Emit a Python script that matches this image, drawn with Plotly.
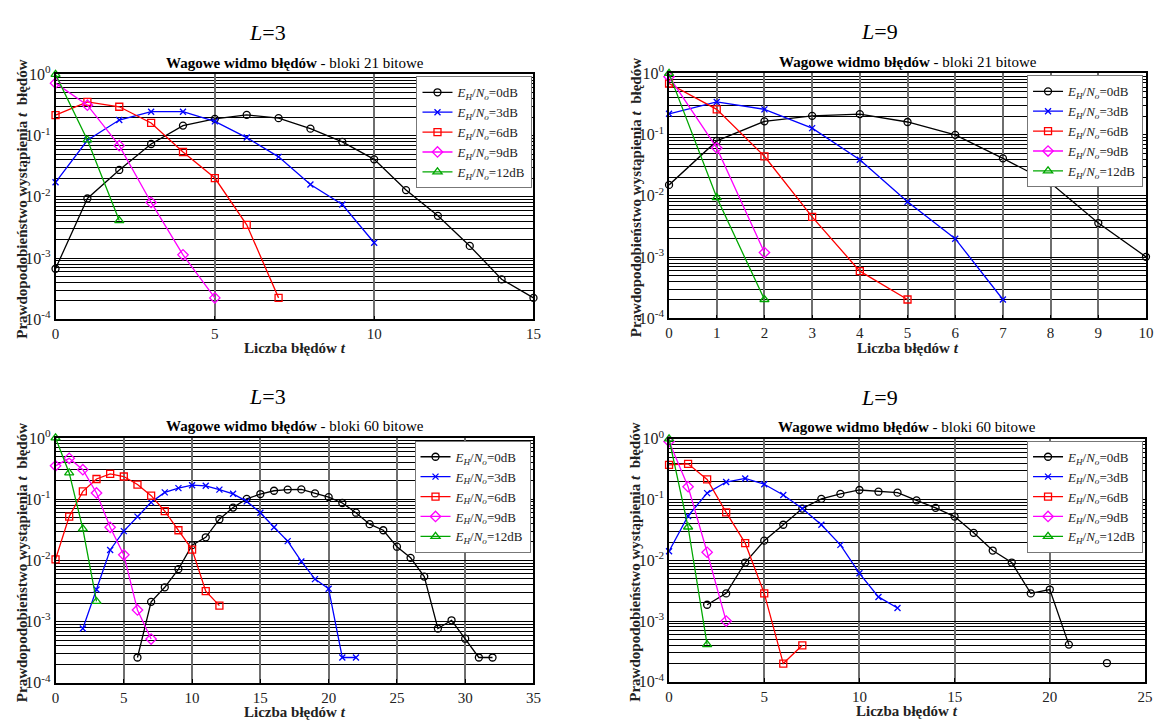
import plotly.graph_objects as go
from plotly.subplots import make_subplots

# ---------------- data ----------------
snr_labels = ["0dB", "3dB", "6dB", "9dB", "12dB"]

# L=3, 21-bit blocks
tl_black_t = list(range(0, 16))
tl_black = [6.7e-4, 0.0094, 0.0275, 0.073, 0.146, 0.188, 0.218, 0.193, 0.13, 0.079, 0.041, 0.0129, 0.0049, 0.00158, 4.5e-4, 2.24e-4]
tl_blue_t = list(range(0, 11))
tl_blue = [0.0173, 0.084, 0.18, 0.246, 0.246, 0.171, 0.093, 0.045, 0.0159, 0.0075, 0.00178]
tl_red_t = list(range(0, 8))
tl_red = [0.216, 0.355, 0.296, 0.161, 0.054, 0.0203, 0.0035, 2.24e-4]
tl_mag_t = list(range(0, 6))
tl_mag = [0.72, 0.314, 0.0686, 0.0081, 0.00113, 2.24e-4]
tl_green_t = list(range(0, 3))
tl_green = [1.0, 0.085, 0.0041]

# L=9, 21-bit blocks
tr_black_t = list(range(0, 11))
tr_black = [0.0151, 0.079, 0.165, 0.203, 0.216, 0.161, 0.099, 0.041, 0.0162, 0.0036, 0.00101]
tr_blue_t = list(range(0, 8))
tr_blue = [0.219, 0.342, 0.259, 0.128, 0.039, 0.008, 0.002, 2.03e-4]
tr_red_t = list(range(0, 6))
tr_red = [0.685, 0.259, 0.0443, 0.00453, 5.9e-4, 2.03e-4]
tr_mag_t = list(range(0, 3))
tr_mag = [0.885, 0.0607, 0.00119]
tr_green_t = list(range(0, 3))
tr_green = [1.0, 0.0094, 2.03e-4]

# L=3, 60-bit blocks
bl_black_t = list(range(6, 33))
bl_black = [2.59e-4, 0.0021, 0.00363, 0.0072, 0.0177, 0.0238, 0.047, 0.0728, 0.101, 0.121, 0.137, 0.143, 0.144,
            0.124, 0.108, 0.0864, 0.06, 0.039, 0.031, 0.0167, 0.011, 0.00543, 7.7e-4, 0.00105, 5.25e-4, 2.59e-4, 2.59e-4]
bl_blue_t = list(range(2, 23))
bl_blue = [7.7e-4, 0.00334, 0.0148, 0.03, 0.0518, 0.0886, 0.129, 0.151, 0.169, 0.165, 0.143, 0.122, 0.092, 0.06,
           0.0347, 0.0206, 0.0096, 0.00494, 0.00343, 2.59e-4, 2.59e-4]
bl_red_t = list(range(0, 13))
bl_red = [0.0104, 0.0518, 0.134, 0.213, 0.259, 0.234, 0.173, 0.114, 0.0637, 0.031, 0.015, 0.00314, 0.00182]
bl_mag_t = list(range(0, 8))
bl_mag = [0.35, 0.464, 0.303, 0.126, 0.0347, 0.0123, 0.00155, 5.18e-4]
bl_green_t = list(range(0, 4))
bl_green = [1.0, 0.268, 0.0326, 0.00213]

# L=9, 60-bit blocks
br_black_t = list(range(2, 24))
br_black = [0.00186, 0.00286, 0.0092, 0.0211, 0.0386, 0.0713, 0.103, 0.124, 0.144, 0.135, 0.13, 0.097, 0.073,
            0.0525, 0.0284, 0.0145, 0.0092, 0.00286, 0.00331, 4.1e-4, None, 2.04e-4]
br_blue_t = list(range(0, 13))
br_blue = [0.0141, 0.0538, 0.128, 0.195, 0.223, 0.179, 0.119, 0.0713, 0.0386, 0.018, 0.00612, 0.0025, 0.00164]
br_red_t = list(range(0, 8))
br_red = [0.374, 0.388, 0.215, 0.0615, 0.0192, 0.00286, 2.0e-4, 4.0e-4]
br_mag_t = list(range(0, 4))
br_mag = [0.906, 0.163, 0.0136, 0.001]
br_green_t = list(range(0, 3))
br_green = [1.0, 0.0354, 4.1e-4]

x_ranges = [[0, 15], [0, 10], [0, 35], [0, 25]]
x_dticks = [5, 1, 5, 5]
panel_L = ["3", "9", "3", "9"]
panel_bits = ["21", "21", "60", "60"]
ytick_vals = [1e-4, 1e-3, 1e-2, 1e-1, 1e0]
ytick_text = ["10<sup>-4</sup>", "10<sup>-3</sup>", "10<sup>-2</sup>", "10<sup>-1</sup>", "10<sup>0</sup>"]

# ---------------- styling ----------------
FONT = "Liberation Serif, Times New Roman, serif"
PAGE_MARGIN = 8                      # default <body> margin of the html page
W, H = 1162 - 2 * PAGE_MARGIN, 728 - 2 * PAGE_MARGIN


def px(xp):
    return (xp - PAGE_MARGIN) / W


def py(yp):
    return 1 - (yp - PAGE_MARGIN) / H


styles = [
    dict(color="#000000", symbol="circle-open", size=7),
    dict(color="#0000FF", symbol="x-thin-open", size=6),
    dict(color="#FF0000", symbol="square-open", size=7),
    dict(color="#FF00FF", symbol="diamond-open", size=8),
    dict(color="#00A800", symbol="triangle-up-open", size=8),
]
panels = [
    [(tl_black_t, tl_black), (tl_blue_t, tl_blue), (tl_red_t, tl_red), (tl_mag_t, tl_mag), (tl_green_t, tl_green)],
    [(tr_black_t, tr_black), (tr_blue_t, tr_blue), (tr_red_t, tr_red), (tr_mag_t, tr_mag), (tr_green_t, tr_green)],
    [(bl_black_t, bl_black), (bl_blue_t, bl_blue), (bl_red_t, bl_red), (bl_mag_t, bl_mag), (bl_green_t, bl_green)],
    [(br_black_t, br_black), (br_blue_t, br_blue), (br_red_t, br_red), (br_mag_t, br_mag), (br_green_t, br_green)],
]
# page-pixel boxes of plot areas: (left, right, top, bottom)
boxes = [(52, 535, 65, 317), (672, 1154, 64, 316), (52, 535, 439, 691), (672, 1153, 440, 690)]
legend_pos = [(534, 67), (1151, 66), (532, 442), (1151, 442)]
Ltitle_x = [266, 885, 266, 885]

fig = make_subplots(rows=2, cols=2)
legend_names = ["legend", "legend2", "legend3", "legend4"]

for p, series in enumerate(panels):
    r, c = p // 2 + 1, p % 2 + 1
    for s, (tx, ty) in enumerate(series):
        st = styles[s]
        fig.add_trace(go.Scatter(
            x=tx, y=ty, mode="lines+markers",
            name="<i>E</i><sub><i>H</i></sub>/<i>N</i><sub><i>o</i></sub>=" + snr_labels[s],
            line=dict(color=st["color"], width=1.3),
            marker=dict(symbol=st["symbol"], size=st["size"], color=st["color"],
                        line=dict(color=st["color"], width=1.3)),
            connectgaps=False, cliponaxis=False,
            legend=legend_names[p], showlegend=True,
        ), row=r, col=c)

layout_updates = {}
annotations = []
for p in range(4):
    l, rgt, t, b = boxes[p]
    ax_idx = "" if p == 0 else str(p + 1)
    layout_updates["xaxis" + ax_idx] = dict(
        domain=[px(l), px(rgt)], range=x_ranges[p], dtick=x_dticks[p], tick0=0,
        showgrid=True, gridcolor="#6e6e6e", gridwidth=1.5,
        zeroline=False, showline=True, linecolor="black", linewidth=1.5, mirror=True,
        ticks="inside", ticklen=4, tickcolor="black",
        tickfont=dict(family=FONT, size=15, color="#222"),
    )
    layout_updates["yaxis" + ax_idx] = dict(
        domain=[py(b), py(t)], type="log", range=[-4, 0],
        tickvals=ytick_vals, ticktext=ytick_text,
        showgrid=True, gridcolor="black", gridwidth=1,
        minor=dict(dtick="D1", showgrid=True, gridcolor="black", gridwidth=1, ticks=""),
        zeroline=False, showline=True, linecolor="black", linewidth=1.5, mirror=True,
        ticks="inside", ticklen=4, tickcolor="black",
        tickfont=dict(family=FONT, size=16, color="#222"),
    )
    lx, ly = legend_pos[p]
    layout_updates[legend_names[p]] = dict(
        x=px(lx), y=py(ly), xanchor="right", yanchor="top",
        xref="paper", yref="paper",
        bgcolor="white", bordercolor="#777", borderwidth=1,
        font=dict(family=FONT, size=13, color="#222"),
        itemwidth=30, tracegroupgap=0,
    )
    cx = (l + rgt) / 2
    annotations.append(dict(
        x=px(Ltitle_x[p]), y=py(t - 43), xref="paper", yref="paper",
        text="<i>L</i>=" + panel_L[p], showarrow=False,
        font=dict(family=FONT, size=22, color="black"), xanchor="center", yanchor="middle",
    ))
    annotations.append(dict(
        x=px(cx), y=py(t - 12), xref="paper", yref="paper",
        text="<b>Wagowe widmo błędów</b> - bloki " + panel_bits[p] + " bitowe", showarrow=False,
        font=dict(family=FONT, size=15, color="black"), xanchor="center", yanchor="middle",
    ))
    annotations.append(dict(
        x=px(cx), y=py(b + 30), xref="paper", yref="paper",
        text="<b>Liczba błędów <i>t</i></b>", showarrow=False,
        font=dict(family=FONT, size=15, color="#222"), xanchor="center", yanchor="middle",
    ))
    annotations.append(dict(
        x=px(l - 34), y=py((t + b) / 2 + 2), xref="paper", yref="paper",
        text="<b>Prawdopodobieństwo wystąpienia <i>t</i>  błędów</b>", showarrow=False,
        textangle=-90,
        font=dict(family=FONT, size=15, color="#222"), xanchor="center", yanchor="middle",
    ))

fig.update_layout(**layout_updates)
fig.update_layout(
    width=W, height=H,
    margin=dict(l=0, r=0, t=0, b=0),
    paper_bgcolor="white", plot_bgcolor="white",
    font=dict(family=FONT, color="black"),
    annotations=annotations,
)

fig.write_html("out.html")
